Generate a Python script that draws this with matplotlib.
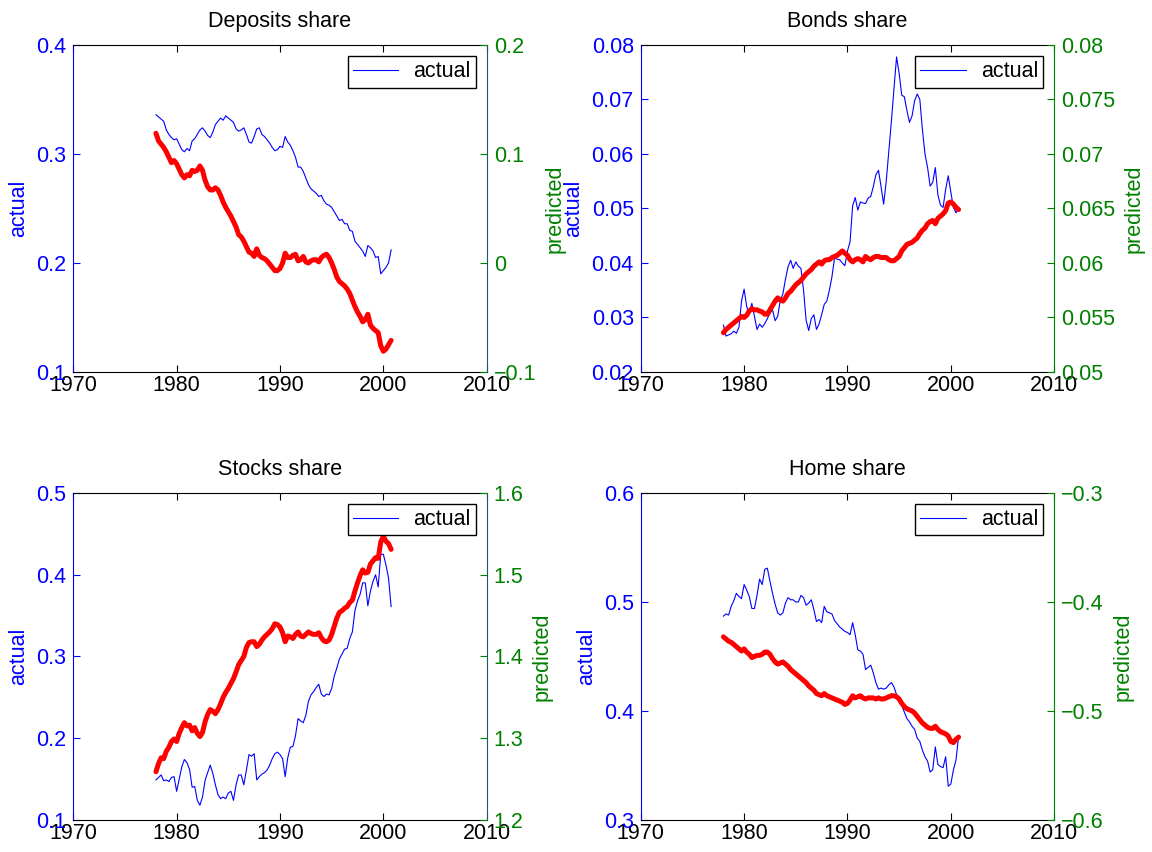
import numpy as np
import matplotlib
matplotlib.use('Agg')
import matplotlib.pyplot as plt
from matplotlib.ticker import FuncFormatter, MultipleLocator

plt.rcParams['font.family'] = ['Liberation Sans', 'DejaVu Sans']
plt.rcParams['axes.unicode_minus'] = True

# quarterly dates 1978Q1 .. 2000Q4
quarters = np.arange(1978, 2001, 0.25)

dep_actual = [
    0.336, 0.334, 0.332, 0.330, 0.322, 0.318, 0.315, 0.313, 0.314, 0.309,
    0.304, 0.302, 0.305, 0.303, 0.312, 0.314, 0.318, 0.322, 0.324, 0.321,
    0.317, 0.315, 0.320, 0.327, 0.330, 0.333, 0.331, 0.335, 0.333, 0.331,
    0.329, 0.323, 0.321, 0.322, 0.324, 0.318, 0.311, 0.310, 0.316, 0.323,
    0.324, 0.318, 0.316, 0.313, 0.310, 0.306, 0.303, 0.304, 0.307, 0.306,
    0.316, 0.311, 0.308, 0.303, 0.297, 0.288, 0.288, 0.284, 0.278, 0.272,
    0.268, 0.266, 0.264, 0.261, 0.262, 0.257, 0.254, 0.253, 0.251, 0.247,
    0.243, 0.239, 0.240, 0.236, 0.236, 0.230, 0.229, 0.220, 0.217, 0.214,
    0.211, 0.206, 0.216, 0.214, 0.211, 0.205, 0.206, 0.190, 0.193, 0.196,
    0.200, 0.212]
dep_pred = [
    0.119, 0.112, 0.109, 0.106, 0.102, 0.097, 0.092, 0.094, 0.091, 0.086,
    0.081, 0.078, 0.081, 0.080, 0.085, 0.084, 0.085, 0.089, 0.085, 0.076,
    0.070, 0.067, 0.067, 0.069, 0.067, 0.062, 0.056, 0.051, 0.047, 0.043,
    0.038, 0.033, 0.026, 0.024, 0.020, 0.015, 0.010, 0.009, 0.006, 0.013,
    0.007, 0.005, 0.004, 0.002, -0.001, -0.004, -0.007, -0.007, -0.005, 0.000,
    0.009, 0.005, 0.005, 0.007, 0.008, 0.002, 0.003, 0.006, 0.001, 0.000,
    0.002, 0.003, 0.003, 0.001, 0.005, 0.007, 0.008, 0.005, 0.000, -0.006,
    -0.013, -0.017, -0.019, -0.021, -0.024, -0.028, -0.034, -0.040, -0.045, -0.049,
    -0.054, -0.052, -0.047, -0.057, -0.060, -0.062, -0.064, -0.076, -0.081, -0.079,
    -0.075, -0.071]

bond_actual = [
    0.0286, 0.0266, 0.0268, 0.0270, 0.0275, 0.0271, 0.0282, 0.0330, 0.0352, 0.0320,
    0.0308, 0.0326, 0.0302, 0.0278, 0.0288, 0.0282, 0.0289, 0.0298, 0.0308, 0.0314,
    0.0294, 0.0302, 0.0332, 0.0343, 0.0370, 0.0393, 0.0405, 0.0390, 0.0402, 0.0394,
    0.0390, 0.0350, 0.0295, 0.0276, 0.0298, 0.0305, 0.0278, 0.0288, 0.0305, 0.0324,
    0.0330, 0.0350, 0.0375, 0.0409, 0.0407, 0.0406, 0.0400, 0.0395, 0.0422, 0.0439,
    0.0505, 0.0520, 0.0497, 0.0512, 0.0510, 0.0509, 0.0519, 0.0522, 0.0540, 0.0562,
    0.0570, 0.0540, 0.0508, 0.0550, 0.0605, 0.0660, 0.0720, 0.0778, 0.0748, 0.0708,
    0.0705, 0.0680, 0.0658, 0.0670, 0.0698, 0.0710, 0.0700, 0.0645, 0.0600, 0.0575,
    0.0541, 0.0548, 0.0575, 0.0525, 0.0506, 0.0502, 0.0535, 0.0560, 0.0530, 0.0502,
    0.0492, 0.0500]
bond_pred = [
    0.0536, 0.0539, 0.0541, 0.0543, 0.0545, 0.0547, 0.0549, 0.0551, 0.0550, 0.0552,
    0.0556, 0.0558, 0.0557, 0.0557, 0.0556, 0.0555, 0.0553, 0.0553, 0.0557, 0.0561,
    0.0565, 0.0568, 0.0566, 0.0565, 0.0568, 0.0572, 0.0574, 0.0577, 0.0580, 0.0582,
    0.0584, 0.0587, 0.0590, 0.0592, 0.0594, 0.0597, 0.0599, 0.0601, 0.0599, 0.0602,
    0.0603, 0.0603, 0.0605, 0.0606, 0.0607, 0.0609, 0.0611, 0.0609, 0.0607, 0.0603,
    0.0601, 0.0603, 0.0604, 0.0603, 0.0601, 0.0606, 0.0604, 0.0603, 0.0605, 0.0606,
    0.0606, 0.0605, 0.0605, 0.0605, 0.0603, 0.0602, 0.0602, 0.0604, 0.0606, 0.0611,
    0.0614, 0.0617, 0.0618, 0.0619, 0.0621, 0.0623, 0.0627, 0.0630, 0.0632, 0.0636,
    0.0638, 0.0639, 0.0636, 0.0641, 0.0643, 0.0645, 0.0648, 0.0655, 0.0656, 0.0654,
    0.0651, 0.0649]

stock_actual = [
    0.149, 0.152, 0.155, 0.148, 0.149, 0.147, 0.152, 0.153, 0.135, 0.150,
    0.165, 0.174, 0.170, 0.162, 0.140, 0.141, 0.124, 0.118, 0.128, 0.148,
    0.158, 0.167, 0.157, 0.143, 0.131, 0.126, 0.128, 0.126, 0.133, 0.135,
    0.124, 0.143, 0.155, 0.155, 0.143, 0.161, 0.180, 0.178, 0.181, 0.149,
    0.153, 0.156, 0.158, 0.161, 0.167, 0.175, 0.181, 0.183, 0.180, 0.175,
    0.153, 0.176, 0.189, 0.190, 0.203, 0.224, 0.221, 0.219, 0.228, 0.245,
    0.253, 0.257, 0.262, 0.266, 0.254, 0.251, 0.254, 0.253, 0.261, 0.276,
    0.286, 0.297, 0.303, 0.309, 0.310, 0.322, 0.330, 0.356, 0.368, 0.376,
    0.390, 0.390, 0.362, 0.380, 0.392, 0.400, 0.385, 0.425, 0.425, 0.412,
    0.396, 0.361]
stock_pred = [
    1.259, 1.269, 1.276, 1.275, 1.284, 1.289, 1.296, 1.299, 1.296, 1.306,
    1.313, 1.319, 1.315, 1.316, 1.309, 1.313, 1.306, 1.302, 1.307, 1.320,
    1.329, 1.335, 1.333, 1.330, 1.335, 1.342, 1.350, 1.356, 1.361, 1.367,
    1.373, 1.381, 1.390, 1.395, 1.400, 1.411, 1.417, 1.418, 1.418, 1.412,
    1.415, 1.420, 1.424, 1.427, 1.430, 1.434, 1.440, 1.439, 1.436, 1.429,
    1.418, 1.425, 1.424, 1.422, 1.427, 1.430, 1.425, 1.424, 1.427, 1.430,
    1.428, 1.427, 1.427, 1.429, 1.423, 1.419, 1.418, 1.420, 1.427, 1.437,
    1.447, 1.454, 1.456, 1.459, 1.461, 1.466, 1.469, 1.480, 1.490, 1.499,
    1.506, 1.502, 1.503, 1.513, 1.517, 1.521, 1.520, 1.540, 1.547, 1.541,
    1.538, 1.531]

home_actual = [
    0.487, 0.489, 0.488, 0.496, 0.501, 0.508, 0.505, 0.503, 0.516, 0.511,
    0.505, 0.494, 0.494, 0.506, 0.521, 0.516, 0.530, 0.531, 0.519, 0.508,
    0.498, 0.490, 0.488, 0.490, 0.499, 0.504, 0.502, 0.502, 0.500, 0.500,
    0.506, 0.504, 0.497, 0.499, 0.502, 0.493, 0.482, 0.484, 0.481, 0.496,
    0.491, 0.490, 0.489, 0.483, 0.480, 0.477, 0.475, 0.473, 0.472, 0.470,
    0.481, 0.470, 0.456, 0.455, 0.452, 0.438, 0.440, 0.442, 0.435, 0.426,
    0.420, 0.421, 0.420, 0.421, 0.424, 0.426, 0.422, 0.415, 0.410, 0.405,
    0.399, 0.393, 0.390, 0.386, 0.383, 0.375, 0.372, 0.364, 0.358, 0.354,
    0.344, 0.346, 0.367, 0.351, 0.349, 0.348, 0.358, 0.331, 0.333, 0.346,
    0.355, 0.377]
home_pred = [
    -0.432, -0.434, -0.436, -0.437, -0.439, -0.441, -0.443, -0.445, -0.443, -0.446,
    -0.448, -0.451, -0.450, -0.449, -0.449, -0.448, -0.446, -0.446, -0.448, -0.452,
    -0.455, -0.457, -0.456, -0.455, -0.457, -0.459, -0.462, -0.464, -0.466, -0.468,
    -0.470, -0.472, -0.474, -0.477, -0.479, -0.481, -0.484, -0.485, -0.486, -0.484,
    -0.486, -0.487, -0.488, -0.489, -0.490, -0.491, -0.492, -0.494, -0.493, -0.490,
    -0.486, -0.488, -0.487, -0.486, -0.488, -0.489, -0.488, -0.488, -0.488, -0.489,
    -0.488, -0.489, -0.489, -0.488, -0.487, -0.486, -0.486, -0.487, -0.489, -0.493,
    -0.496, -0.498, -0.499, -0.500, -0.502, -0.505, -0.508, -0.511, -0.513, -0.515,
    -0.516, -0.516, -0.514, -0.517, -0.519, -0.520, -0.521, -0.523, -0.528, -0.529,
    -0.526, -0.524]

titles = ['Deposits share', 'Bonds share', 'Stocks share', 'Home share']
left_lims = [(0.1, 0.4, 0.1), (0.02, 0.08, 0.01), (0.1, 0.5, 0.1), (0.3, 0.6, 0.1)]
right_lims = [(-0.1, 0.2, 0.1), (0.05, 0.08, 0.005), (1.2, 1.6, 0.1), (-0.6, -0.3, 0.1)]
actuals = [dep_actual, bond_actual, stock_actual, home_actual]
preds = [dep_pred, bond_pred, stock_pred, home_pred]

BLUE = '#0000ff'
GREEN = '#008000'
right_spine = ['#1a5a6a', GREEN, '#1a5a6a', GREEN]
FS = 15.5


def fmt(v, pos):
    s = '%g' % round(v, 6)
    if s == '-0':
        s = '0'
    return s.replace('-', '\u2212')


fig = plt.figure(figsize=(11.52, 8.52), dpi=100, facecolor='white')
boxes = [(0.0636, 0.5634), (0.5562, 0.5634), (0.0636, 0.0376), (0.5562, 0.0376)]
w, h = 0.3589, 0.3838

for k in range(4):
    ax = fig.add_axes([boxes[k][0], boxes[k][1], w, h])
    ax2 = ax.twinx()

    l1, = ax.plot(quarters, actuals[k], color=BLUE, lw=0.8, label='actual')
    ax2.plot(quarters, preds[k], color='red', lw=3.6, solid_capstyle='round')

    ax.set_xlim(1970, 2010)
    ax.set_xticks([1970, 1980, 1990, 2000, 2010])
    lo, hi, st = left_lims[k]
    ax.set_ylim(lo, hi)
    ax.yaxis.set_major_locator(MultipleLocator(st))
    ax.yaxis.set_major_formatter(FuncFormatter(fmt))
    lo, hi, st = right_lims[k]
    ax2.set_ylim(lo, hi)
    ax2.yaxis.set_major_locator(MultipleLocator(st))
    ax2.yaxis.set_major_formatter(FuncFormatter(fmt))

    ax.tick_params(axis='x', direction='in', top=True, length=5, labelsize=FS, pad=2, colors='black')
    ax.tick_params(axis='y', direction='in', length=5, labelsize=FS, pad=5, colors=BLUE)
    ax2.tick_params(axis='y', direction='in', length=5, labelsize=FS, pad=5, colors=GREEN)

    ax.spines['left'].set_color(BLUE)
    ax.spines['right'].set_visible(False)
    ax2.spines['left'].set_visible(False)
    ax2.spines['top'].set_visible(False)
    ax2.spines['bottom'].set_visible(False)
    ax2.spines['right'].set_color(right_spine[k])
    for sp in ['top', 'bottom']:
        ax.spines[sp].set_color('black')

    ax.set_ylabel('actual', color=BLUE, fontsize=FS, labelpad=5)
    ax2.set_ylabel('predicted', color=GREEN, fontsize=FS, labelpad=6)
    ax.set_title(titles[k], fontsize=FS, pad=13)

    leg = ax2.legend(handles=[l1], loc='upper right', fontsize=FS, fancybox=False,
                     framealpha=1, edgecolor='black', handlelength=2.1,
                     borderaxespad=0.5, borderpad=0.25, handletextpad=0.7)
    leg.get_frame().set_linewidth(1.0)

fig.savefig('out.png', dpi=100, facecolor='white')
